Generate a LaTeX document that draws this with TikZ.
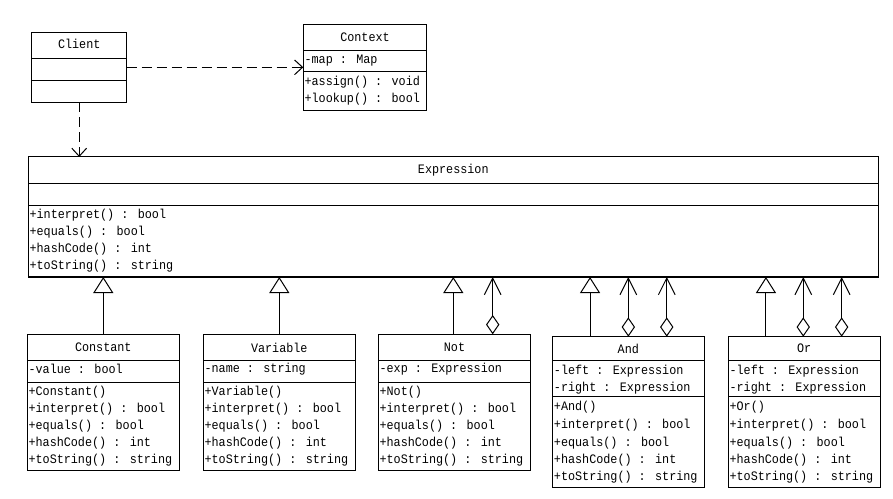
\documentclass[tikz,border=0pt]{standalone}
\usepackage{fontspec}
\setmainfont{Liberation Mono}[FakeStretch=0.91]
\usetikzlibrary{arrows.meta,fit,calc}
\tikzset{
  cls/.style={draw, line width=0.75pt, inner sep=0pt, outer sep=0pt},
  sep/.style={line width=0.75pt},
  txt/.style={anchor=west, inner sep=0pt, font=\fontsize{9.7pt}{11pt}\selectfont},
  ttl/.style={inner sep=0pt, font=\fontsize{9.7pt}{11pt}\selectfont},
  dep/.style={line width=0.75pt, dash pattern=on 7.5pt off 3.75pt, -{Straight Barb[length=6pt,width=11pt]}},
  gen/.style={line width=0.75pt, -{Triangle[open,length=12pt,width=15pt]}},
  aggr/.style={line width=0.75pt, {Diamond[open,length=14.5pt,width=10pt]}-{Straight Barb[length=12.5pt,width=12.5pt]}}
}
\begin{document}
\begin{tikzpicture}[x=0.75pt,y=-0.75pt]
\useasboundingbox (0,0) rectangle (893,499);
\fill[white] (0,0) rectangle (893,499);

% Client
\node[cls, fit={(31.7,32.3) (126.7,102.3)}] (client) {};
\draw[sep] (31.7,58.3) -- (126.7,58.3);
\draw[sep] (31.7,80.3) -- (126.7,80.3);
\node[ttl] (clientT) at (79.2,44) {Client};

% Context
\node[cls, fit={(303.3,24.3) (426.7,110.3)}] (context) {};
\draw[sep] (303.3,50.7) -- (426.7,50.7);
\draw[sep] (303.3,72) -- (426.7,72);
\node[ttl] (contextT) at (365,37.3) {Context};
\node[txt] (contextA) at (304.3,60.7) {-map : Map};
\node[txt] (contextM1) at (304.3,81.7) {+assign() : void};
\node[txt] (contextM2) at (304.3,99.3) {+lookup() : bool};

% Expression
\node[cls, fit={(28.3,157) (878.3,277)}] (expr) {};
\draw[sep] (28.3,183.3) -- (878.3,183.3);
\draw[sep] (28.3,205.3) -- (878.3,205.3);
\node[ttl] (exprT) at (453.3,170) {Expression};
\node[txt] (exprM1) at (29.3,215.3) {+interpret() : bool};
\node[txt] (exprM2) at (29.3,232.3) {+equals() : bool};
\node[txt] (exprM3) at (29.3,249.3) {+hashCode() : int};
\node[txt] (exprM4) at (29.3,266.3) {+toString() : string};

% Constant
\node[cls, fit={(27.3,334.3) (179.3,470)}] (const) {};
\draw[sep] (27.3,360.7) -- (179.3,360.7);
\draw[sep] (27.3,382.7) -- (179.3,382.7);
\node[ttl] (constT) at (103.3,347.5) {Constant};
\node[txt] (constA) at (28.3,369.3) {-value : bool};
\node[txt] (constM1) at (28.3,391.7) {+Constant()};
\node[txt] (constM2) at (28.3,408.7) {+interpret() : bool};
\node[txt] (constM3) at (28.3,425.7) {+equals() : bool};
\node[txt] (constM4) at (28.3,442.7) {+hashCode() : int};
\node[txt] (constM5) at (28.3,459.7) {+toString() : string};

% Variable
\node[cls, fit={(203.3,334.3) (355.3,470)}] (var) {};
\draw[sep] (203.3,360.7) -- (355.3,360.7);
\draw[sep] (203.3,382.7) -- (355.3,382.7);
\node[ttl] (varT) at (279.3,347.5) {Variable};
\node[txt] (varA) at (204.3,369.3) {-name : string};
\node[txt] (varM1) at (204.3,391.7) {+Variable()};
\node[txt] (varM2) at (204.3,408.7) {+interpret() : bool};
\node[txt] (varM3) at (204.3,425.7) {+equals() : bool};
\node[txt] (varM4) at (204.3,442.7) {+hashCode() : int};
\node[txt] (varM5) at (204.3,459.7) {+toString() : string};

% Not
\node[cls, fit={(378.3,334.3) (530.7,470)}] (notc) {};
\draw[sep] (378.3,360.7) -- (530.7,360.7);
\draw[sep] (378.3,382.7) -- (530.7,382.7);
\node[ttl] (notT) at (454.5,347.5) {Not};
\node[txt] (notA) at (379.3,369.3) {-exp : Expression};
\node[txt] (notM1) at (379.3,391.7) {+Not()};
\node[txt] (notM2) at (379.3,408.7) {+interpret() : bool};
\node[txt] (notM3) at (379.3,425.7) {+equals() : bool};
\node[txt] (notM4) at (379.3,442.7) {+hashCode() : int};
\node[txt] (notM5) at (379.3,459.7) {+toString() : string};

% And
\node[cls, fit={(552.7,336.7) (704,487.3)}] (andc) {};
\draw[sep] (552.7,360.7) -- (704,360.7);
\draw[sep] (552.7,396) -- (704,396);
\node[ttl] (andT) at (628.3,348.7) {And};
\node[txt] (andA1) at (553.7,370.7) {-left : Expression};
\node[txt] (andA2) at (553.7,388.3) {-right : Expression};
\node[txt] (andM1) at (553.7,406.7) {+And()};
\node[txt] (andM2) at (553.7,425) {+interpret() : bool};
\node[txt] (andM3) at (553.7,442.7) {+equals() : bool};
\node[txt] (andM4) at (553.7,460) {+hashCode() : int};
\node[txt] (andM5) at (553.7,477.3) {+toString() : string};

% Or
\node[cls, fit={(728.3,336.7) (880,487.3)}] (orc) {};
\draw[sep] (728.3,360.7) -- (880,360.7);
\draw[sep] (728.3,396) -- (880,396);
\node[ttl] (orT) at (804.2,348.7) {Or};
\node[txt] (orA1) at (729.3,370.7) {-left : Expression};
\node[txt] (orA2) at (729.3,388.3) {-right : Expression};
\node[txt] (orM1) at (729.3,406.7) {+Or()};
\node[txt] (orM2) at (729.3,425) {+interpret() : bool};
\node[txt] (orM3) at (729.3,442.7) {+equals() : bool};
\node[txt] (orM4) at (729.3,460) {+hashCode() : int};
\node[txt] (orM5) at (729.3,477.3) {+toString() : string};

% dependencies
\draw[dep] (client.east) -- (client.east -| context.west);
\draw[dep] (client.south) -- (client.south |- expr.north);

% generalizations
\draw[gen] (const.north) -- (const.north |- expr.south);
\draw[gen] (var.north) -- (var.north |- expr.south);
\coordinate (notG) at ($(notc.north)+(-1.2,0)$);
\draw[gen] (notG) -- (notG |- expr.south);
\coordinate (andG) at ($(andc.north)+(-38.3,0)$);
\draw[gen] (andG) -- (andG |- expr.south);
\coordinate (orG) at ($(orc.north)+(-38.2,0)$);
\draw[gen] (orG) -- (orG |- expr.south);

% aggregations
\coordinate (notA1) at ($(notc.north)+(38.2,0)$);
\draw[aggr] (notA1) -- (notA1 |- expr.south);
\draw[aggr] (andc.north) -- (andc.north |- expr.south);
\coordinate (andA2c) at ($(andc.north)+(38.4,0)$);
\draw[aggr] (andA2c) -- (andA2c |- expr.south);
\coordinate (orA1c) at ($(orc.north)+(-0.9,0)$);
\draw[aggr] (orA1c) -- (orA1c |- expr.south);
\coordinate (orA2c) at ($(orc.north)+(37.5,0)$);
\draw[aggr] (orA2c) -- (orA2c |- expr.south);
\end{tikzpicture}
\end{document}
